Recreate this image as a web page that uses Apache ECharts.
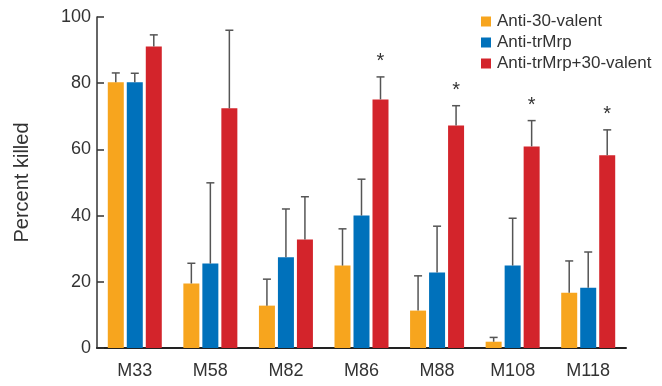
<!DOCTYPE html>
<html>
<head>
<meta charset="utf-8">
<script src="https://cdn.jsdelivr.net/npm/echarts@6/dist/echarts.min.js"></script>
<style>html,body{margin:0;padding:0;background:#fff;}#c{width:662px;height:386px;}</style>
</head>
<body>
<div id="c"></div>
<script>
var categories = ['M33', 'M58', 'M82', 'M86', 'M88', 'M108', 'M118'];
var seriesNames = ['Anti-30-valent', 'Anti-trMrp', 'Anti-trMrp+30-valent'];
var valent30 = [80.3, 19.5, 12.8, 24.9, 11.3, 1.9, 16.7];
var valent30Err = [2.8, 6.1, 8.0, 11.1, 10.5, 1.3, 9.6];
var trMrp = [80.3, 25.5, 27.4, 40.0, 22.8, 24.9, 18.2];
var trMrpErr = [2.7, 24.4, 14.6, 11.0, 14.0, 14.3, 10.8];
var combo = [91.1, 72.4, 32.8, 75.1, 67.2, 60.9, 58.2];
var comboErr = [3.5, 23.6, 12.9, 6.8, 6.0, 7.8, 7.7];
var significant = [false, false, false, true, true, true, true];
var yTicks = [0, 20, 40, 60, 80, 100];

var colors = ['#F7A51E', '#0071BB', '#D3242B'];
var values = [valent30, trMrp, combo];
var errs = [valent30Err, trMrpErr, comboErr];
var BAR_W = 16, GAP = 3;
var offsets = [-(BAR_W + GAP), 0, BAR_W + GAP];

function errSeries(k) {
  var data = categories.map(function (c, i) {
    return [i, values[k][i], values[k][i] + errs[k][i], (k === 2 && significant[i]) ? 1 : 0];
  });
  return {
    type: 'custom',
    z: 5,
    silent: true,
    data: data,
    renderItem: function (params, api) {
      var i = api.value(0);
      var p0 = api.coord([i, api.value(1)]);
      var p1 = api.coord([i, api.value(2)]);
      var x = p0[0] + offsets[k];
      var children = [
        { type: 'line', shape: { x1: x, y1: p0[1], x2: x, y2: p1[1] }, style: { stroke: '#555', lineWidth: 1.5 } },
        { type: 'line', shape: { x1: x - 4, y1: p1[1], x2: x + 4, y2: p1[1] }, style: { stroke: '#555', lineWidth: 1.5 } }
      ];
      if (api.value(3) === 1) {
        children.push({ type: 'text', style: { text: '*', x: x, y: p1[1] - 15, align: 'center', verticalAlign: 'middle', fill: '#333', font: '20px "Liberation Sans", Arial, sans-serif' } });
      }
      return { type: 'group', children: children };
    }
  };
}

var series = [];
for (var k = 0; k < 3; k++) {
  series.push({
    name: seriesNames[k],
    type: 'bar',
    data: values[k],
    barWidth: BAR_W,
    barGap: (GAP / BAR_W * 100) + '%',
    itemStyle: { color: colors[k] }
  });
}
for (var k2 = 0; k2 < 3; k2++) series.push(errSeries(k2));

var chart = echarts.init(document.getElementById('c'), null, { renderer: 'canvas' });
chart.setOption({
  animation: false,
  textStyle: { fontFamily: '"Liberation Sans", Arial, sans-serif' },
  grid: { left: 97, right: 36, top: 17, bottom: 38, containLabel: false },
  legend: {
    orient: 'vertical',
    left: 481,
    top: 13,
    padding: 0,
    itemWidth: 10,
    itemHeight: 10,
    itemGap: 4,
    icon: 'rect',
    data: seriesNames,
    textStyle: { fontSize: 17, color: '#333', padding: [0, 0, 0, 1] }
  },
  xAxis: {
    type: 'category',
    data: categories,
    axisTick: { show: false },
    axisLine: { lineStyle: { color: '#222', width: 2 } },
    axisLabel: { fontSize: 18, color: '#333', margin: 14 }
  },
  yAxis: {
    type: 'value',
    min: yTicks[0],
    max: yTicks[yTicks.length - 1],
    interval: 20,
    name: 'Percent killed',
    nameLocation: 'middle',
    nameGap: 65,
    nameTextStyle: { fontSize: 20, color: '#333' },
    splitLine: { show: false },
    axisLine: { show: true, lineStyle: { color: '#333', width: 1.5 } },
    axisTick: { show: true, inside: true, length: 7, lineStyle: { color: '#333', width: 1.5 } },
    axisLabel: { fontSize: 18, color: '#333', margin: 6 }
  },
  series: series
});
</script>
</body>
</html>
